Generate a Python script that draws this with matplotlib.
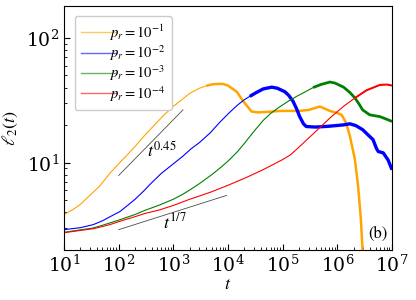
import numpy as np
import matplotlib
matplotlib.use("Agg")
import matplotlib.pyplot as plt
from matplotlib.ticker import LogLocator, NullFormatter, FixedLocator

plt.rcParams['font.family'] = ['DejaVu Serif']
plt.rcParams['mathtext.fontset'] = 'stix'

# data
t_a = [10, 15, 20, 30, 45, 70, 100, 150, 200, 300, 500, 700, 1e3, 1.5e3, 2e3, 3e3, 4e3, 5e3,
       6e3, 8e3, 1e4, 1.45e4, 1.9e4, 2.3e4, 2.7e4, 3.5e4, 5e4, 9e4, 2e5, 3e5, 4.8e5, 7.3e5,
       1e6, 1.2e6, 1.45e6, 1.7e6, 2.1e6, 2.4e6, 2.7e6, 3e6]
l_a = [3.84, 4.25, 4.65, 5.5, 6.5, 8.3, 9.8, 11.8, 13.5, 16.6, 21, 24.5, 28.3, 32.5, 36, 39.5, 41.3, 42.3,
       42.7, 42.8, 41.5, 37, 31, 28, 25.7, 25.3, 25.5, 26, 26, 26.5, 28.2, 26,
       25, 24.2, 20.8, 16.3, 10.6, 6.45, 3.5, 1.5]

t_b = [10, 20, 34, 50, 70, 106, 150, 200, 283, 400, 600, 1e3, 1.5e3, 2.1e3, 3e3, 4.7e3, 7e3,
       1.07e4, 1.5e4, 2e4, 2.5e4, 3.3e4, 4.4e4, 6.3e4, 8e4, 1.1e5, 1.3e5, 1.55e5, 1.8e5, 2.04e5,
       2.4e5, 2.7e5, 4e5, 7e5, 1.3e6, 1.7e6, 2.2e6, 2.9e6, 3.6e6, 4.5e6, 5.2e6, 5.6e6, 6.9e6,
       8.5e6, 1e7]
l_b = [2.91, 3.02, 3.19, 3.42, 3.7, 4.07, 4.6, 5.1, 5.9, 6.9, 8.2, 9.8, 11.3, 12.9, 14.5, 17.3, 21,
       25.3, 29, 32, 34, 36.5, 39, 40.3, 39.5, 37, 34.5, 31, 27, 23.5,
       20.5, 19.5, 19.3, 19.6, 20.1, 20.5, 19.8, 18.4, 16.8, 15.3, 13, 12.3, 12,
       10.5, 8.8]

t_c = [10, 20, 34, 50, 70, 106, 200, 300, 570, 1e3, 1.5e3, 2e3, 3e3, 5e3, 7e3, 1e4, 1.5e4,
       2e4, 2.5e4, 3.3e4, 4.4e4, 6e4, 9e4, 1.3e5, 1.8e5, 2.6e5, 3.6e5, 5e5, 7.3e5, 9e5,
       1.3e6, 1.7e6, 2.1e6, 2.5e6, 2.9e6, 3.9e6, 6e6, 8e6, 1e7]
l_c = [2.77, 2.9, 3.0, 3.15, 3.3, 3.5, 3.85, 4.15, 4.6, 5.1, 5.6, 6.05, 6.8, 8.0, 9.0, 10.3, 12.3,
       14.3, 16.2, 18.8, 21.8, 24.8, 28.2, 31.3, 34, 37, 40, 42.3, 44.3, 43.5,
       40.3, 36.5, 33, 29.5, 26.5, 24.2, 23.4, 22.3, 21.4]

t_d = [10, 20, 34, 50, 70, 106, 200, 300, 570, 1e3, 2e3, 2.85e3, 5e3, 1e4, 2e4, 4.4e4,
       1e5, 1.4e5, 1.8e5, 3.6e5, 7.3e5, 1.3e6, 2.1e6, 3.4e6, 6e6, 8e6, 1e7]
l_d = [2.75, 2.87, 2.96, 3.08, 3.2, 3.4, 3.7, 3.92, 4.2, 4.55, 5.1, 5.37, 5.85, 6.6, 7.5, 8.8,
       10.6, 11.6, 12.8, 17.0, 22.8, 28.3, 33, 38, 42, 42.3, 41.5]

labels = [r'$p_r=10^{-1}$', r'$p_r=10^{-2}$', r'$p_r=10^{-3}$', r'$p_r=10^{-4}$']
colors = ['orange', 'blue', 'green', 'red']
noisy_from = [4e3, 2.5e4, 3e5, 2e6]   # where the traces become thick/noisy
noisy_lw = [1.8, 2.4, 2.0, 1.4]

guide1_t = [100, 1.5e3]
guide1_l = [7.9, 26.5]
guide2_t = [100, 9.4e3]
guide2_l = [2.91, 5.47]

xticks = [1e1, 1e2, 1e3, 1e4, 1e5, 1e6, 1e7]
yticks = [1e1, 1e2]

fig = plt.figure(figsize=(4.16, 3.0), dpi=100)
ax = fig.add_axes([64/416, 1-250/300, 328/416, 244/300])

for t, l, c, lab, nf, nw in zip([t_a, t_b, t_c, t_d], [l_a, l_b, l_c, l_d], colors, labels,
                                noisy_from, noisy_lw):
    t = np.asarray(t); l = np.asarray(l)
    ax.plot(t, l, color=c, lw=0.8, label=lab)
    m = t >= nf
    ax.plot(t[m], l[m], color=c, lw=nw, solid_capstyle='butt')

ax.plot(guide1_t, guide1_l, color='black', lw=0.6, alpha=0.7)
ax.plot(guide2_t, guide2_l, color='black', lw=0.6, alpha=0.7)
ax.text(330, 11.2, r'$t^{0.45}$', fontsize=13)
ax.text(650, 3.0, r'$t^{1/7}$', fontsize=13)
ax.text(0.985, 0.035, '(b)', transform=ax.transAxes, ha='right', va='bottom', fontsize=12,
        family='STIXGeneral')

ax.set_xscale('log')
ax.set_yscale('log')
ax.set_xlim(10, 1e7)
ax.set_ylim(2.0, 180)
ax.xaxis.set_major_locator(FixedLocator(xticks))
ax.yaxis.set_major_locator(FixedLocator(yticks))
ax.xaxis.set_minor_locator(LogLocator(base=10, subs=np.arange(2, 10), numticks=100))
ax.xaxis.set_minor_formatter(NullFormatter())
ax.yaxis.set_minor_formatter(NullFormatter())
ax.set_xlabel(r'$t$', fontsize=13, labelpad=-1)
ax.set_ylabel(r'$\ell_2(t)$', fontsize=13, labelpad=4)
ax.tick_params(which='both', direction='in', labelsize=13.5)
ax.tick_params(which='major', length=4)
ax.tick_params(which='minor', length=2)

leg = ax.legend(loc='upper left', fontsize=10.5, handlelength=2.4, handletextpad=-0.5,
                labelspacing=0.05, borderpad=0.45, framealpha=1, edgecolor='#cccccc',
                bbox_to_anchor=(0.01, 0.99))
for h in leg.get_lines():
    h.set_linewidth(1.0)
    h.set_alpha(0.6)

fig.savefig('out.png', dpi=100)
